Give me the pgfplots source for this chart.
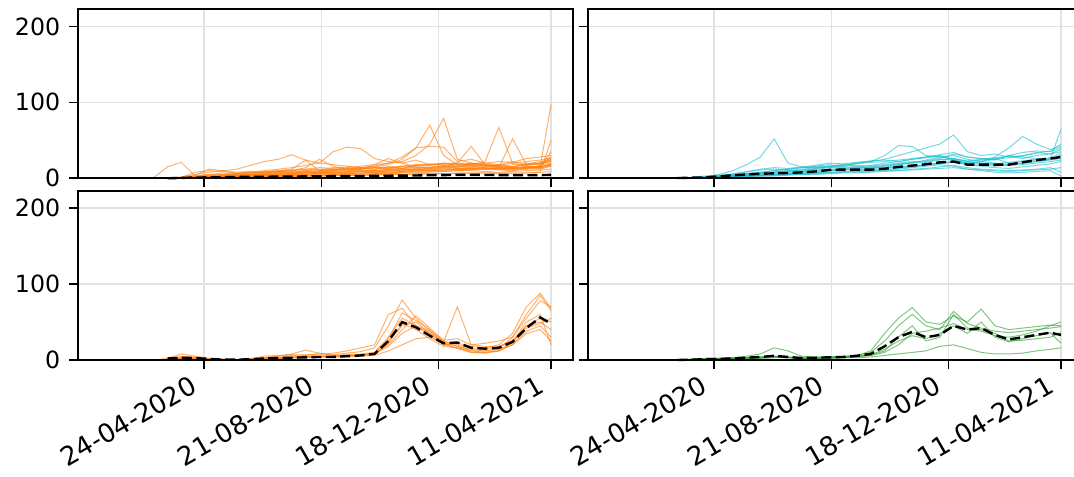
\documentclass[border=0pt]{standalone}
\usepackage{fontspec}
\setmainfont{DejaVu Sans}
\usepackage{pgfplots}
\usepackage{pgfplotstable}
\pgfplotsset{compat=1.18}
\definecolor{taborange}{RGB}{255,127,14}
\definecolor{tabcyan}{RGB}{23,190,207}
\definecolor{tabgreen}{RGB}{44,160,44}
\definecolor{gridgray}{RGB}{226,226,226}
\tikzset{spine/.style={black, line width=1.1pt}}

% ---------- top-left (orange, many series) ----------
\pgfplotstableread{
name c1 c2 c3 c4 c5 c6 c7 c8 c9 c10 c11 c12 c13 c14 c15 c16 c17 c18 c19 c20 c21 c22 c23 c24 c25 c26 c27 c28 c29 c30 c31 c32
x -105 -65 -51 -37 -23 -9 5 19 33 47 61 75 89 103 117 131 145 159 173 187 201 215 229 243 257 271 285 299 313 327 341 352
s1 0 0 1 15 21 3 5 4 6 5 7 8 6 9 8 10 9 11 10 12 11 13 12 14 13 12 15 14 13 16 15 18
s2 0 0 0 0 2 5 8 10 12 17 22 25 31 24 20 18 16 14 12 15 13 17 19 18 16 20 18 17 15 19 22 25
s3 0 0 0 0 1 3 5 7 6 8 10 12 14 17 20 35 41 39 26 22 20 24 18 20 17 19 16 18 14 20 18 24
s4 0 0 0 0 0 2 3 4 5 6 8 9 10 12 11 14 13 12 15 18 25 40 70 30 18 16 14 12 15 13 17 20
s5 0 0 0 0 0 1 2 3 4 5 6 8 9 10 12 11 14 16 18 20 22 30 45 79 25 20 18 15 13 14 16 28
s6 0 0 0 0 1 2 4 5 6 7 8 10 11 12 14 13 15 14 16 20 28 40 42 41 22 25 20 18 22 18 20 22
s7 0 0 0 0 0 1 2 2 3 4 5 6 7 8 7 9 10 11 10 12 13 14 15 16 14 18 22 67 20 16 14 18
s8 0 0 0 0 0 1 1 2 3 3 4 5 6 5 7 8 7 9 10 9 11 12 13 14 16 15 17 14 52 18 20 24
s9 0 0 0 0 0 0 1 2 2 3 4 3 5 6 7 6 8 9 8 10 12 11 13 15 20 42 18 15 12 14 15 17
s10 0 0 0 0 0 1 1 2 2 3 3 4 4 5 6 5 6 7 8 7 9 10 11 10 12 11 13 12 14 13 15 97
s11 0 0 0 0 1 8 10 9 7 8 9 10 12 24 10 12 11 13 12 14 13 15 14 16 15 17 16 15 18 17 19 28
s12 0 0 0 0 0 4 12 10 8 9 7 9 8 10 9 11 13 12 14 13 15 16 18 17 19 18 20 22 21 26 28 30
s13 0 0 0 0 0 2 3 5 6 7 8 9 10 14 25 16 12 14 15 13 16 18 17 20 19 18 16 17 15 18 20 22
s14 0 0 0 0 0 1 2 3 4 5 6 5 7 8 9 10 11 12 18 26 20 15 14 16 13 15 14 12 13 15 14 16
s15 0 0 0 0 0 0 1 1 1 2 2 2 3 3 3 4 4 4 5 5 5 6 6 6 7 7 7 6 6 7 8 9
s16 0 0 0 0 0 1 1 2 2 2 3 3 3 4 4 5 5 6 6 7 8 8 9 9 10 10 9 8 9 10 11 12
s17 0 0 0 0 0 1 2 3 3 4 5 6 5 7 8 7 9 10 9 11 10 12 11 13 12 14 13 12 11 13 12 16
s18 0 0 0 0 0 0 1 1 2 2 3 4 4 5 5 6 6 7 7 8 8 9 10 11 12 13 12 11 10 12 13 20
s19 0 0 0 0 1 2 3 2 4 5 4 6 5 7 6 8 7 9 8 10 9 11 10 12 11 13 12 14 13 15 14 18
s20 0 0 0 0 0 0 0 1 1 1 2 2 2 3 3 3 4 4 4 5 5 5 6 6 6 6 7 7 7 7 8 50
s21 0 0 0 0 0 0 1 1 2 2 2 3 3 3 4 4 5 5 6 6 7 7 8 9 10 11 12 13 12 14 15 35
s22 0 0 0 0 0 1 2 3 4 5 6 7 8 9 10 11 12 13 14 15 16 17 18 19 20 19 18 17 20 22 24 27
mean nan nan nan 0 0.5 1 1.2 1.5 1.7 2 2 2.2 2.3 2.5 2.6 2.8 3 3 3.2 3.4 3.5 3.7 4 4.2 4.5 4.6 4.4 4.2 4 4 4.2 4.5
}\tlraw
\pgfplotstabletranspose[colnames from=name]{\tl}{\tlraw}

% ---------- top-right (cyan) ----------
\pgfplotstableread{
name c1 c2 c3 c4 c5 c6 c7 c8 c9 c10 c11 c12 c13 c14 c15 c16 c17 c18 c19 c20 c21 c22 c23 c24 c25 c26 c27 c28 c29 c30 c31 c32
x -105 -65 -51 -37 -23 -9 5 19 33 47 61 75 89 103 117 131 145 159 173 187 201 215 229 243 257 271 285 299 313 327 341 352
s1 0 0 0 0 1 2 5 10 18 28 52 20 15 14 16 18 15 17 20 22 25 28 30 24 20 22 25 30 28 26 25 30
s2 0 0 0 0 0 1 2 4 6 8 10 12 14 16 18 15 20 22 25 30 35 40 45 57 35 30 32 28 30 34 32 35
s3 0 0 0 0 0 1 2 3 5 7 8 10 9 12 11 13 14 15 14 18 20 22 25 24 20 22 28 40 55 45 38 42
s4 0 0 0 0 0 0 1 2 3 4 5 6 7 8 10 12 11 13 15 14 16 18 20 22 18 17 16 18 20 22 25 65
s5 0 0 0 0 0 1 2 4 6 8 10 12 14 15 16 18 20 22 30 43 42 30 28 25 22 24 26 20 22 24 26 30
s6 0 0 0 0 1 2 3 5 8 12 14 13 15 17 20 19 21 23 24 22 25 27 29 26 23 25 27 29 26 30 32 38
s7 0 0 0 0 0 0 1 2 3 3 4 5 5 6 7 8 8 9 10 10 11 12 13 14 12 11 10 9 10 11 12 14
s8 0 0 0 0 0 1 1 2 3 4 5 6 6 7 8 9 10 11 12 13 15 17 19 21 18 16 14 13 15 17 19 22
s9 0 0 0 0 1 2 3 4 5 6 7 8 9 10 12 13 15 14 16 18 20 24 28 30 25 22 20 18 20 22 24 26
s10 0 0 0 0 0 1 2 2 3 4 4 5 6 7 8 8 9 10 11 12 14 16 18 16 12 10 8 7 8 9 10 3
s11 0 0 0 0 0 0 1 2 4 6 8 10 12 14 15 14 13 15 17 19 21 23 26 32 28 26 24 30 34 36 35 40
s12 0 0 0 0 0 1 3 6 9 11 12 11 10 12 14 16 17 16 18 20 22 21 24 26 22 20 19 21 23 25 27 33
s13 0 0 0 0 0 0 1 1 2 3 3 4 5 5 6 7 7 8 9 10 12 13 15 17 14 12 11 10 11 12 14 8
s14 0 0 0 0 0 1 2 3 4 5 6 7 8 9 10 11 12 13 14 15 16 18 20 22 20 19 18 17 18 20 22 24
s15 0 0 0 0 1 3 4 5 6 7 8 9 11 13 15 17 19 21 22 24 26 28 31 34 28 26 25 27 29 33 36 45
mean nan nan nan 0.3 0.8 1.2 2.5 4 5 6 6.5 7 7.8 9 11 11.5 11.5 11.4 12.5 15 16.7 18.5 21 22 18 18 18 18 21 24 26 28
}\trraw
\pgfplotstabletranspose[colnames from=name]{\tr}{\trraw}

% ---------- bottom-left (orange) ----------
\pgfplotstableread{
name c1 c2 c3 c4 c5 c6 c7 c8 c9 c10 c11 c12 c13 c14 c15 c16 c17 c18 c19 c20 c21 c22 c23 c24 c25 c26 c27 c28 c29 c30 c31 c32
x -105 -65 -51 -37 -23 -9 5 19 33 47 61 75 89 103 117 131 145 159 173 187 201 215 229 243 257 271 285 299 313 327 341 352
s1 0 0 0 2 8 5 2 1 0 1 3 5 6 7 8 7 9 11 16 45 79 55 38 24 18 14 12 15 30 60 85 65
s2 0 0 0 1 5 4 2 1 0 2 5 6 7 6 8 9 12 16 20 60 68 45 32 20 22 18 16 20 35 70 88 68
s3 0 0 0 1 3 2 1 0 0 1 2 3 4 5 5 6 7 8 10 30 55 45 35 24 70 20 18 17 25 45 55 50
s4 0 0 0 0 2 1 1 0 0 0 1 2 3 3 4 4 5 5 6 12 20 28 30 22 18 12 10 12 20 35 40 25
s5 0 0 0 1 4 3 1 0 0 1 2 3 3 4 5 5 6 7 9 25 45 50 35 20 16 10 10 12 22 45 50 40
s6 0 0 0 0 3 2 1 1 0 1 2 2 3 4 4 5 5 6 8 20 40 58 42 25 20 15 14 18 26 42 48 55
s7 0 0 0 1 2 2 1 0 0 1 1 2 3 3 4 4 5 6 7 22 48 40 28 18 16 12 12 14 20 38 45 30
s8 0 0 0 0 1 2 1 0 0 1 3 5 8 13 9 6 6 7 8 18 35 45 38 22 15 10 9 12 24 50 60 20
s9 0 0 0 0 2 1 1 0 0 0 2 3 4 5 5 4 5 6 9 28 62 52 40 26 28 20 22 25 30 55 78 70
mean nan nan nan 2 3 2.5 1.5 0.5 0.5 1 2 2.5 3 3.5 4 4 5 6 8 25 50 43 32 22 23 16 15 16 24 42 56 48
}\blraw
\pgfplotstabletranspose[colnames from=name]{\bl}{\blraw}

% ---------- bottom-right (green) ----------
\pgfplotstableread{
name c1 c2 c3 c4 c5 c6 c7 c8 c9 c10 c11 c12 c13 c14 c15 c16 c17 c18 c19 c20 c21 c22 c23 c24 c25 c26 c27 c28 c29 c30 c31 c32
x -105 -65 -51 -37 -23 -9 5 19 33 47 61 75 89 103 117 131 145 159 173 187 201 215 229 243 257 271 285 299 313 327 341 352
s1 0 0 0 0 1 2 2 3 3 4 5 4 3 3 4 4 6 12 35 55 69 50 47 58 50 67 45 40 42 44 46 45
s2 0 0 0 0 0 1 2 3 5 8 16 12 5 4 4 5 6 10 25 45 60 45 40 64 48 42 38 36 38 40 42 44
s3 0 0 0 0 0 1 1 1 2 2 3 3 2 2 2 3 3 4 6 8 10 12 18 20 15 10 8 8 9 12 14 16
s4 0 0 0 0 1 2 2 2 3 4 5 4 2 3 3 4 5 7 14 25 32 28 35 45 35 50 30 24 28 32 36 22
s5 0 0 0 0 0 1 1 2 2 3 4 3 2 2 3 3 5 6 10 20 35 38 42 48 40 38 32 30 33 38 45 50
s6 0 0 0 0 1 1 2 2 3 3 4 3 2 2 3 3 4 6 12 30 45 25 30 60 42 40 35 25 26 28 30 36
mean nan nan nan 0 0.5 1 1.5 2 3 4 5.5 4 2.6 3 3.5 4 5.6 8 18 30 37 30 33 45 40 42 33 27 30 33 36 33
}\brraw
\pgfplotstabletranspose[colnames from=name]{\br}{\brraw}

\pgfplotsset{
  panel/.style={
    scale only axis, width=247.5pt, height=84.5pt,
    xmin=-127.8, xmax=374.3, ymin=0, ymax=222.5,
    xtick={0,119,238,352}, ytick={0,100,200},
    tick align=outside, xtick pos=bottom, ytick pos=left,
    major tick length=4.5pt,
    tick style={black, line width=0.8pt},
    axis line style={line width=1.1pt},
    grid=major, major grid style={line width=0.7pt, draw=gridgray},
    unbounded coords=jump, clip=false,
    yticklabel style={font=\fontsize{11.85}{14}\selectfont, inner sep=0pt, xshift=-4.2pt},
    xticklabel style={font=\fontsize{13}{15}\selectfont, rotate=30, anchor=north east, inner sep=0pt, xshift=-7.8pt, yshift=1.5pt},
    anchor=north west,
  },
  ser/.style={line width=0.5pt, draw opacity=0.6},
  meanline/.style={black, line width=1.2pt, dash pattern=on 5pt off 2.2pt},
}

\begin{document}
\begin{tikzpicture}
\begin{axis}[panel, at={(39pt,233.35pt)}, xticklabels={}, yticklabels={0,100,200}]
\pgfplotsinvokeforeach{1,...,22}{\addplot[taborange, ser] table[x=x,y=s#1]{\tl};}
\addplot[meanline] table[x=x,y=mean]{\tl};
\draw[spine] (rel axis cs:0,0) rectangle (rel axis cs:1,1);
\end{axis}
\begin{axis}[panel, at={(294pt,233.35pt)}, xticklabels={}, yticklabels={}]
\pgfplotsinvokeforeach{1,...,15}{\addplot[tabcyan, ser] table[x=x,y=s#1]{\tr};}
\addplot[meanline] table[x=x,y=mean]{\tr};
\draw[spine] (rel axis cs:0,0) rectangle (rel axis cs:1,1);
\end{axis}
\begin{axis}[panel, at={(39pt,142.5pt)}, yticklabels={0,100,200},
  xticklabels={24-04-2020,21-08-2020,18-12-2020,11-04-2021}]
\pgfplotsinvokeforeach{1,...,9}{\addplot[taborange, ser] table[x=x,y=s#1]{\bl};}
\addplot[meanline] table[x=x,y=mean]{\bl};
\draw[spine] (rel axis cs:0,0) rectangle (rel axis cs:1,1);
\end{axis}
\begin{axis}[panel, at={(294pt,142.5pt)}, yticklabels={},
  xticklabels={24-04-2020,21-08-2020,18-12-2020,11-04-2021}]
\pgfplotsinvokeforeach{1,...,6}{\addplot[tabgreen, ser] table[x=x,y=s#1]{\br};}
\addplot[meanline] table[x=x,y=mean]{\br};
\draw[spine] (rel axis cs:0,0) rectangle (rel axis cs:1,1);
\end{axis}
\pgfresetboundingbox
\path[use as bounding box] (0,0) rectangle (537pt,238pt);
\end{tikzpicture}
\end{document}
